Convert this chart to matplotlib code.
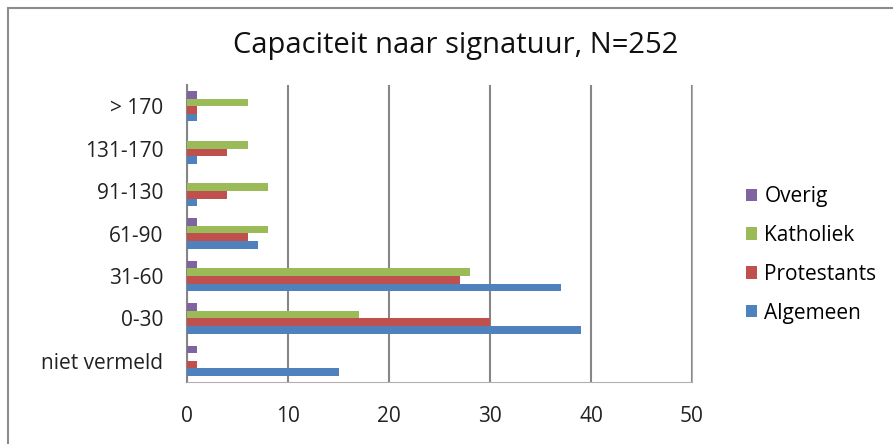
import matplotlib
matplotlib.use("Agg")
import matplotlib.pyplot as plt
import numpy as np
from matplotlib.patches import Rectangle

categories = ["niet vermeld", "0-30", "31-60", "61-90", "91-130", "131-170", "> 170"]
algemeen = [15, 39, 37, 7, 1, 1, 1]
protestants = [1, 30, 27, 6, 4, 4, 1]
katholiek = [0, 17, 28, 8, 8, 6, 6]
overig = [1, 1, 1, 1, 0, 0, 1]
series_names = ["Algemeen", "Protestants", "Katholiek", "Overig"]
colors = ["#4F81BD", "#C0504D", "#9BBB59", "#8064A2"]
xticks = [0, 10, 20, 30, 40, 50]
title = "Capaciteit naar signatuur, N=252"

plt.rcParams['font.family'] = ['Open Sans', 'DejaVu Sans']

fig = plt.figure(figsize=(8.93, 4.44), dpi=100)
fig.patches.append(Rectangle((8/893, -0.1), 1.0, 1 - 8/444 + 0.1, transform=fig.transFigure,
                             fill=False, edgecolor="#8c8c8c", linewidth=1.5))
ax = fig.add_axes([187/893, 1 - 382/444, 505/893, 297/444])

y = np.arange(len(categories))
h = 0.18
data = [algemeen, protestants, katholiek, overig]
handles = []
for i, (vals, c, name) in enumerate(zip(data, colors, series_names)):
    b = ax.barh(y + (i - 1.5) * h, vals, height=h, color=c, label=name, zorder=3)
    handles.append(b)

ax.set_xlim(0, 50)
ax.set_ylim(-0.5, len(categories) - 0.5)
ax.set_xticks(xticks)
ax.set_xticklabels([str(t) for t in xticks], fontsize=15, color="#222222")
ax.set_yticks(y)
ax.set_yticklabels(categories, fontsize=15, color="#222222")
ax.tick_params(axis='x', length=0, pad=17)
ax.tick_params(axis='y', length=0, pad=17)
ax.grid(axis='x', color="#868686", linewidth=1.5, zorder=0)
ax.spines['top'].set_visible(False)
ax.spines['left'].set_color("#868686")
ax.spines['left'].set_linewidth(1.5)
ax.spines['bottom'].set_color("#b0b0b0")
ax.spines['right'].set_color("#b0b0b0")

fig.text(456/893, 1 - 45/444, title, fontsize=21, ha='center', va='center', color="#111111")

leg = fig.legend(handles[::-1], series_names[::-1], loc='center left',
                 bbox_to_anchor=(727/893, 1 - 255/444), frameon=False, fontsize=15,
                 handlelength=0.55, handleheight=0.55, handletextpad=0.35, labelspacing=0.85)

fig.savefig("out.png", dpi=100)
